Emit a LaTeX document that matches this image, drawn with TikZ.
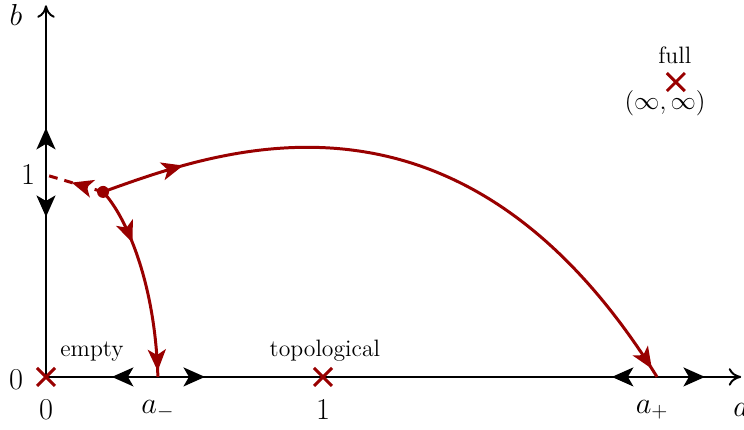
\documentclass[tikz,border=0pt]{standalone}
\usepackage{amssymb}
\usetikzlibrary{arrows.meta,shapes.misc,decorations.markings}
\colorlet{flowred}{red!60!black}

\begin{document}
\begin{tikzpicture}[
x=5.54cm,y=4.04cm,
axis/.style={line width=1.1pt,-{To[length=2.5mm,width=3.5mm]}},
flow/.style={line width=1.1pt,-{Stealth[length=4.3mm,width=3.8mm,inset=1.1mm]}},
rg/.style={line width=1.7pt,draw=flowred},
rarr/.style={postaction={decorate,decoration={markings,
  mark=at position #1 with {\arrow{Stealth[length=4.3mm,width=3.6mm,inset=1.1mm]}}}}},
pt/.style={draw=flowred,line width=1.7pt,cross out,minimum size=3mm,inner sep=0pt},
lbl/.style={font=\fontsize{17}{20}\selectfont},
sm/.style={font=\fontsize{13.5}{16}\selectfont}
]
\useasboundingbox (-0.166,-0.262) rectangle (2.52,1.866);

% fixed points on the axes
\coordinate (O) at (0,0);
\coordinate (b1) at (0,1);
\coordinate (am) at (0.404,0);
\coordinate (ap) at (2.206,0);
\coordinate (fp) at (0.206,0.916);

% axes
\draw[axis] (O) -- (2.51,0);
\draw[axis] (O) -- (0,1.84);
\node[lbl] (alab) at (2.51,-0.163) {$a$};
\node[lbl] (blab) at (-0.108,1.79) {$b$};

% flow along the axes
\draw[flow] (b1) -- (0,1.233);
\draw[flow] (b1) -- (0,0.792);
\draw[flow] (am) -- (0.238,0);
\draw[flow] (am) -- (0.574,0);
\draw[flow] (ap) -- (2.043,0);
\draw[flow] (ap) -- (2.379,0);

% flow lines in the plane
\draw[rg,dashed,dash pattern=on 5pt off 4pt,rarr=0.55] (fp) -- (b1);
\draw[rg,rarr=0.13,rarr=0.985] (fp) .. controls (0.628,1.124) and (1.495,1.569) .. (ap);
\draw[rg,rarr=0.3,rarr=0.97] (fp) .. controls (0.285,0.802) and (0.394,0.48) .. (am);
\fill[flowred] (fp) circle (0.12cm);

% phases
\node[pt] (empty) at (O) {};
\node[pt] (topo) at (1,0) {};
\node[pt] (full) at (2.274,1.46) {};
\node[sm] at (0.166,0.124) {empty};
\node[sm] at (1.007,0.129) {topological};
\node[sm] at (2.27,1.594) {full};
\node[sm] at (2.235,1.356) {$(\infty,\infty)$};

% tick labels
\node[lbl] at (-0.108,-0.015) {$0$};
\node[lbl] at (0,-0.163) {$0$};
\node[lbl] at (1,-0.163) {$1$};
\node[lbl] at (-0.065,1) {$1$};
\node[lbl] at (0.404,-0.163) {$a_-$};
\node[lbl] at (2.188,-0.163) {$a_+$};
\end{tikzpicture}
\end{document}
